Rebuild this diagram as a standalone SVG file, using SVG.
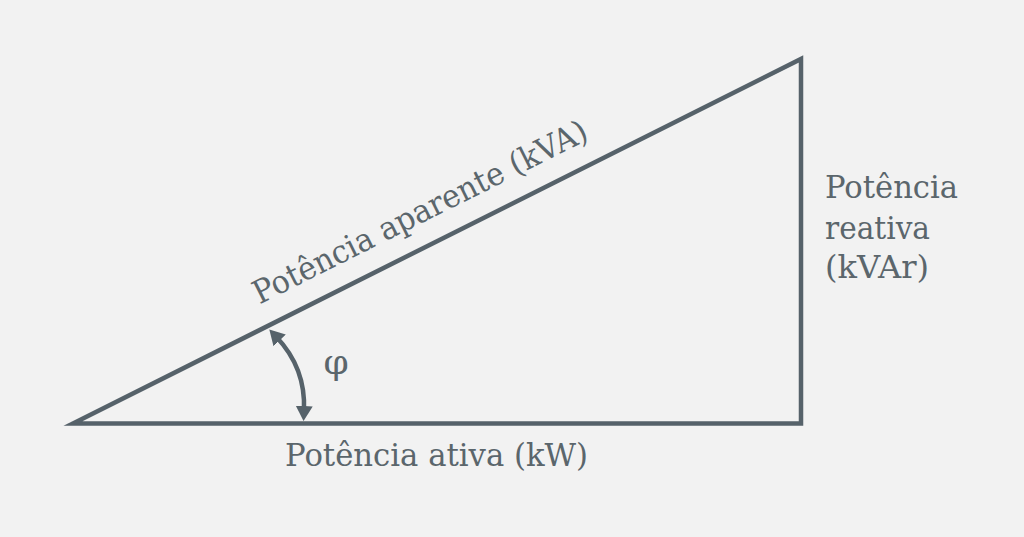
<svg xmlns="http://www.w3.org/2000/svg" width="1024" height="537" viewBox="0 0 1024 537">
<style>
  .lbl { font-family: "DejaVu Serif", "Liberation Serif", serif; font-size: 32px; fill: #5b666c; }
  .edge { fill: none; stroke: #56626a; stroke-width: 4.5; stroke-miterlimit: 10; stroke-linejoin: miter; }
</style>
<defs>
  <marker id="ah" viewBox="0 -9 16 18" refX="5" refY="0" markerWidth="16" markerHeight="18" markerUnits="userSpaceOnUse" orient="auto-start-reverse">
    <path d="M0,-8.5 L15,0 L0,8.5 Z" fill="#56626a"/>
  </marker>
</defs>
<rect width="1024" height="537" fill="#f2f2f2"/>
<g id="triangle">
  <polygon class="edge" points="73,423.5 801,59 801,423.5"/>
</g>
<g id="connectors">
  <path class="edge" d="M276.2,336.8 Q306,368 304,411" marker-start="url(#ah)" marker-end="url(#ah)"/>
</g>
<g id="label-aparente">
  <text class="lbl" transform="translate(73,423.5) rotate(-26.6)" x="220" y="-23" textLength="370" lengthAdjust="spacingAndGlyphs">Potência aparente (kVA)</text>
</g>
<g id="label-reativa">
  <text class="lbl" x="825" y="198" textLength="133" lengthAdjust="spacingAndGlyphs">Potência</text>
  <text class="lbl" x="825" y="238.5" textLength="105" lengthAdjust="spacingAndGlyphs">reativa</text>
  <text class="lbl" x="825" y="278" textLength="104" lengthAdjust="spacingAndGlyphs">(kVAr)</text>
</g>
<g id="label-ativa">
  <text class="lbl" x="285" y="466" textLength="303" lengthAdjust="spacingAndGlyphs">Potência ativa (kW)</text>
</g>
<g id="label-phi">
  <text class="lbl" x="336" y="374" text-anchor="middle" style="font-size:36px">φ</text>
</g>
</svg>
